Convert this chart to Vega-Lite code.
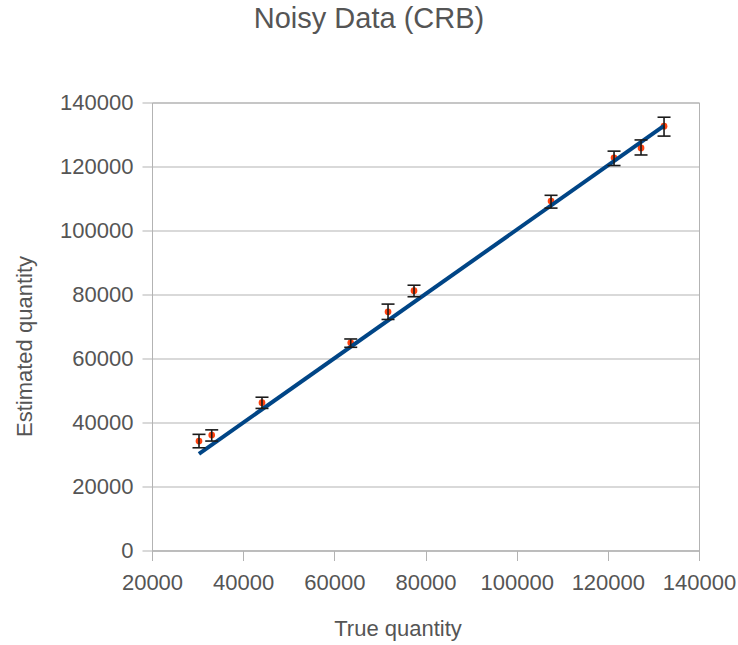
{
  "$schema": "https://vega.github.io/schema/vega-lite/v6.json",
  "autosize": {"type": "none"},
  "padding": {"left": 152, "top": 102.5, "right": 39, "bottom": 94.5},
  "width": 547,
  "height": 448,
  "background": "white",
  "config": {
    "font": "Liberation Sans",
    "view": {"stroke": "#b3b3b3", "strokeWidth": 1},
    "axis": {
      "labelFont": "Liberation Sans",
      "titleFont": "Liberation Sans",
      "labelFontSize": 22,
      "titleFontSize": 22,
      "labelColor": "#555555",
      "titleColor": "#555555",
      "titleFontWeight": "normal",
      "domainColor": "#b3b3b3",
      "tickColor": "#b3b3b3",
      "gridColor": "#b3b3b3",
      "tickSize": 10
    }
  },
  "title": {
    "text": "Noisy Data (CRB)",
    "font": "Liberation Sans",
    "fontSize": 29,
    "fontWeight": "normal",
    "color": "#555555",
    "anchor": "middle",
    "frame": "group",
    "dx": -56.5,
    "baseline": "alphabetic",
    "offset": 35
  },
  "datasets": {
    "pts": [
      {"true": 30310, "est": 34200, "lo": 32100, "hi": 36300},
      {"true": 33100, "est": 36100, "lo": 34200, "hi": 37700},
      {"true": 44130, "est": 46200, "lo": 44400, "hi": 47900},
      {"true": 63600, "est": 64900, "lo": 63500, "hi": 66100},
      {"true": 71780, "est": 74600, "lo": 72200, "hi": 77000},
      {"true": 77480, "est": 81200, "lo": 79300, "hi": 82900},
      {"true": 107540, "est": 109200, "lo": 107000, "hi": 111000},
      {"true": 121360, "est": 122700, "lo": 120300, "hi": 124800},
      {"true": 127280, "est": 125800, "lo": 123600, "hi": 128300},
      {"true": 132330, "est": 132600, "lo": 129500, "hi": 135400}
    ],
    "fit": [
      {"true": 30300, "est": 30200},
      {"true": 132300, "est": 132700}
    ]
  },
  "layer": [
    {
      "data": {"name": "pts"},
      "mark": {"type": "circle", "color": "#ff420e", "opacity": 1, "size": 45},
      "encoding": {
        "x": {
          "field": "true", "type": "quantitative",
          "scale": {"domain": [20000, 140000], "nice": false, "zero": false},
          "axis": {
            "title": "True quantity",
            "values": [20000, 40000, 60000, 80000, 100000, 120000, 140000],
            "format": "d",
            "grid": false,
            "labelPadding": 12,
            "labelFlush": false,
            "titleX": 245.5,
            "titleY": 84.5,
            "titleAlign": "center",
            "titleBaseline": "alphabetic",
            "titleAnchor": null
          }
        },
        "y": {
          "field": "est", "type": "quantitative",
          "scale": {"domain": [0, 140000], "nice": false},
          "axis": {
            "title": "Estimated quantity",
            "values": [0, 20000, 40000, 60000, 80000, 100000, 120000, 140000],
            "format": "d",
            "grid": true,
            "labelPadding": 9,
            "labelFlush": false,
            "titleAngle": -90,
            "titleX": -128,
            "titleY": 243.5,
            "titleAlign": "center",
            "titleBaseline": "middle"
          }
        }
      }
    },
    {
      "data": {"name": "fit"},
      "mark": {"type": "line", "color": "#004586", "strokeWidth": 4},
      "encoding": {
        "x": {"field": "true", "type": "quantitative"},
        "y": {"field": "est", "type": "quantitative"}
      }
    },
    {
      "data": {"name": "pts"},
      "mark": {"type": "rule", "color": "#1a1a1a", "strokeWidth": 1.6},
      "encoding": {
        "x": {"field": "true", "type": "quantitative"},
        "y": {"field": "lo", "type": "quantitative"},
        "y2": {"field": "hi"}
      }
    },
    {
      "data": {"name": "pts"},
      "mark": {"type": "tick", "orient": "horizontal", "color": "#1a1a1a", "size": 13, "thickness": 1.6, "opacity": 1},
      "encoding": {
        "x": {"field": "true", "type": "quantitative"},
        "y": {"field": "lo", "type": "quantitative"}
      }
    },
    {
      "data": {"name": "pts"},
      "mark": {"type": "tick", "orient": "horizontal", "color": "#1a1a1a", "size": 13, "thickness": 1.6, "opacity": 1},
      "encoding": {
        "x": {"field": "true", "type": "quantitative"},
        "y": {"field": "hi", "type": "quantitative"}
      }
    }
  ]
}
